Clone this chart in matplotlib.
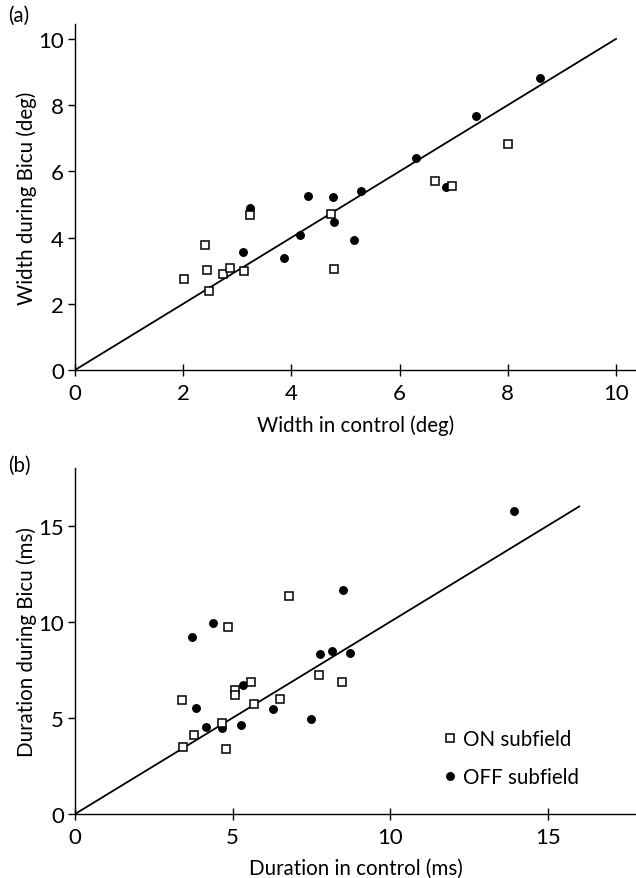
import matplotlib
matplotlib.use("Agg")
import matplotlib.pyplot as plt
from matplotlib.lines import Line2D

plt.rcParams['font.family'] = ['Lato', 'DejaVu Sans']

# Panel (a): receptive-field width
a_on_x = [2.02, 2.41, 2.44, 2.47, 2.74, 2.86, 3.13, 3.24, 4.74, 4.79, 6.66, 6.96, 8.01]
a_on_y = [2.76, 3.79, 3.03, 2.39, 2.90, 3.08, 3.00, 4.68, 4.70, 3.05, 5.72, 5.56, 6.82]
a_off_x = [3.23, 3.10, 3.87, 4.16, 4.30, 4.77, 4.79, 5.15, 5.29, 6.31, 6.86, 7.41, 8.59]
a_off_y = [4.90, 3.57, 3.38, 4.09, 5.26, 5.22, 4.46, 3.94, 5.42, 6.39, 5.54, 7.66, 8.83]
a_line = [0, 10]
a_ticks = [0, 2, 4, 6, 8, 10]

# Panel (b): response duration
b_on_x = [3.41, 3.42, 3.79, 4.65, 4.79, 4.84, 5.08, 5.08, 5.59, 5.68, 6.50, 6.80, 7.73, 8.48]
b_on_y = [5.94, 3.48, 4.12, 4.73, 3.40, 9.72, 6.46, 6.19, 6.86, 5.72, 5.98, 11.35, 7.21, 6.88]
b_off_x = [3.70, 3.85, 4.17, 4.38, 4.65, 5.26, 5.34, 6.28, 7.49, 7.76, 8.14, 8.51, 8.71, 13.93]
b_off_y = [9.19, 5.53, 4.52, 9.93, 4.47, 4.64, 6.69, 5.48, 4.96, 8.34, 8.46, 11.65, 8.39, 15.77]
b_line = [0, 16]
b_ticks = [0, 5, 10, 15]

W, H = 636, 879
fig = plt.figure(figsize=(W / 100, H / 100), dpi=100)

def add_axes(left_px, top_px, right_px, bottom_px):
    return fig.add_axes([left_px / W, 1 - bottom_px / H,
                         (right_px - left_px) / W, (bottom_px - top_px) / H])

ax1 = add_axes(75, 25, 636, 371)
ax2 = add_axes(75, 469, 636, 815)

sq = dict(marker='s', linestyle='none', markersize=6.3, markerfacecolor='white',
          markeredgecolor='black', markeredgewidth=1.1)
ci = dict(marker='o', linestyle='none', markersize=5.4, color='black')

for ax, onx, ony, offx, offy, ln, ticks, xl, yl, xlab, ylab in [
        (ax1, a_on_x, a_on_y, a_off_x, a_off_y, a_line, a_ticks, 10.37, 10.45,
         'Width in control (deg)', 'Width during Bicu (deg)'),
        (ax2, b_on_x, b_on_y, b_off_x, b_off_y, b_line, b_ticks, 17.8, 18.0,
         'Duration in control (ms)', 'Duration during Bicu (ms)')]:
    ax.plot(ln, ln, color='black', linewidth=1.3, zorder=1)
    ax.plot(onx, ony, zorder=3, **sq)
    ax.plot(offx, offy, zorder=2, **ci)
    ax.set_xlim(0, xl)
    ax.set_ylim(0, yl)
    ax.set_xticks(ticks)
    ax.set_yticks(ticks)
    for s in ['top', 'right']:
        ax.spines[s].set_visible(False)
    for s in ['left', 'bottom']:
        ax.spines[s].set_linewidth(1.0)
    ax.tick_params(axis='x', direction='inout', length=9, width=1.0, pad=5, labelsize=16)
    ax.tick_params(axis='y', direction='out', length=5, width=1.0, pad=3, labelsize=16)
    ax.set_xlabel(xlab, fontsize=14.8, labelpad=8)
    ax.set_ylabel(ylab, fontsize=14.8, labelpad=1)

handles = [Line2D([], [], **sq), Line2D([], [], **ci)]
ax2.legend(handles, ['ON subfield', 'OFF subfield'], loc='upper left',
           bbox_to_anchor=(11.45, 4.85), bbox_transform=ax2.transData,
           frameon=False, fontsize=14.8, handlelength=0.6, handletextpad=0.3,
           labelspacing=0.9, borderaxespad=0)

fig.text(8 / W, 1 - 16 / H, '(a)', fontsize=14.8, va='center', ha='left')
fig.text(8 / W, 1 - 466 / H, '(b)', fontsize=14.8, va='center', ha='left')

fig.savefig('out.png', dpi=100, facecolor='white')
